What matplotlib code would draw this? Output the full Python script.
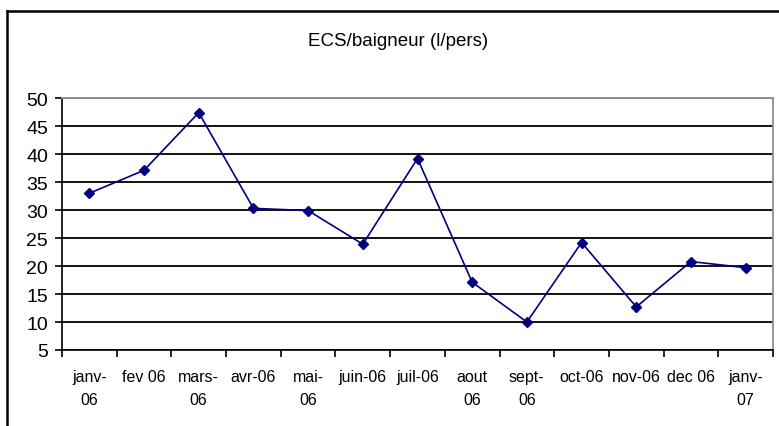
import matplotlib
matplotlib.use("Agg")
import matplotlib.pyplot as plt
from matplotlib.lines import Line2D
import numpy as np

plt.rcParams["font.family"] = ["Liberation Sans", "DejaVu Sans"]

months = ["janv-\n06", "fev 06", "mars-\n06", "avr-06", "mai-\n06", "juin-06", "juil-06",
          "aout\n06", "sept-\n06", "oct-06", "nov-06", "dec 06", "janv-\n07"]
ecs_per_bather = [33.0, 37.1, 47.4, 30.3, 29.9, 23.9, 39.2, 17.1, 10.0, 24.2, 12.7, 20.8, 19.7]
y_ticks = [5, 10, 15, 20, 25, 30, 35, 40, 45, 50]


def main():
    fig = plt.figure(figsize=(7.79, 4.27), dpi=100)
    ax = fig.add_axes([0.0796, 0.178, 0.9127, 0.590])

    x = np.arange(len(months))
    ax.plot(x, ecs_per_bather, color="#000080", linewidth=1.2,
            marker="D", markersize=5.5, markerfacecolor="#000080",
            markeredgecolor="#000080", zorder=3)

    ax.set_xlim(-0.5, len(months) - 0.5)
    ax.set_ylim(min(y_ticks), max(y_ticks))
    ax.set_yticks(y_ticks)
    ax.set_yticklabels([str(v) for v in y_ticks], fontsize=14)
    for v in y_ticks:
        ax.axhline(v, color="black", linewidth=1.3, zorder=1)

    # labels at category centres, tick marks at category boundaries
    ax.set_xticks(x)
    ax.set_xticklabels(months, fontsize=11.5, linespacing=1.6, va="top")
    ax.set_xticks(np.arange(len(months) + 1) - 0.5, minor=True)
    ax.tick_params(axis="x", which="major", length=0, pad=14)
    ax.tick_params(axis="x", which="minor", length=5, width=1.2, direction="out")
    ax.tick_params(axis="y", length=5, width=1.2, direction="out", pad=5)

    for side in ["top", "right"]:
        ax.spines[side].set_color("#909090")
        ax.spines[side].set_linewidth(1.3)
    for side in ["left", "bottom"]:
        ax.spines[side].set_color("black")
        ax.spines[side].set_linewidth(1.2)

    fig.text(0.511, 0.903, "ECS/baigneur (l/pers)", ha="center", va="center", fontsize=13.5)

    # chart frame (right and bottom edges fall outside the picture)
    fig.add_artist(Line2D([0.0096, 0.0096], [0.0, 0.971], color="black", linewidth=1.8))
    fig.add_artist(Line2D([0.0096, 1.0], [0.971, 0.971], color="black", linewidth=1.8))

    fig.savefig("out.png", dpi=100)
    plt.close(fig)


if __name__ == "__main__":
    main()
